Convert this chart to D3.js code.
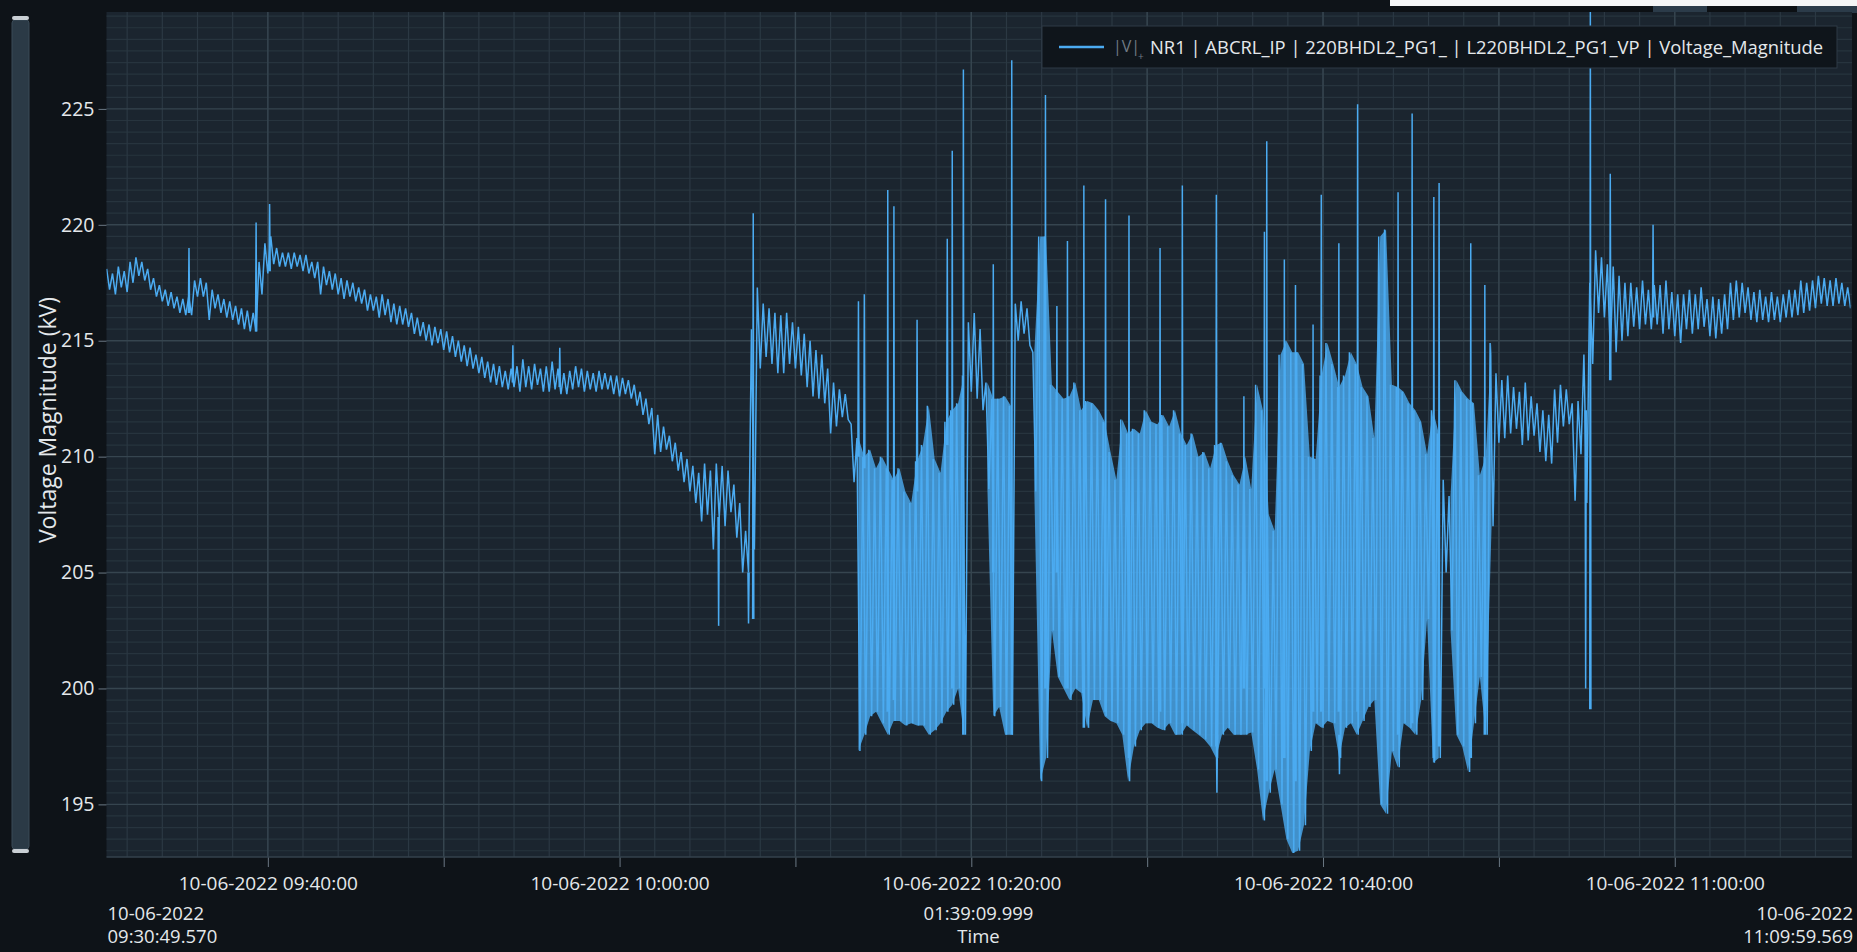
<!DOCTYPE html>
<html>
<head>
<meta charset="utf-8">
<script src="https://cdn.jsdelivr.net/npm/d3@7"></script>
<style>
  html, body { margin: 0; padding: 0; background: #0e1318; overflow: hidden; }
  svg { display: block; }
  text { font-family: "Open Sans", "Noto Sans", sans-serif; }
</style>
</head>
<body>
<svg id="chart" width="1857" height="952"></svg>
<script>
// ---- series meta ----------------------------------------------------------
const seriesName = "NR1 | ABCRL_IP | 220BHDL2_PG1_ | L220BHDL2_PG1_VP | Voltage_Magnitude";
const yAxisTitle = "Voltage Magnitude (kV)";
const xAxisTitle = "Time";

// visible time window
const rangeStart = "2022-06-10T09:30:49.570";
const rangeEnd   = "2022-06-10T11:09:59.569";

// the dense signal is stored as min/max per 20 s bucket
const firstBucket = "2022-06-10T09:30:50.000";
const bucketSeconds = 20;

// y axis
const yTicks = [195, 200, 205, 210, 215, 220, 225];
const yDomain = [192.73, 229.18];

// bucket maxima of the signal body (kV)
const bodyHigh = [
  218.1,217.9,218.2,218.0,218.4,218.6,218.4,218.1,217.7,217.4,
  217.2,217.1,216.9,216.8,216.9,217.6,217.7,217.5,217.2,217.0,
  216.8,216.7,216.5,216.4,216.3,216.2,218.4,219.2,219.5,219.0,
  218.8,218.8,218.8,218.7,218.7,218.4,218.4,218.2,218.0,217.9,
  217.7,217.6,217.5,217.3,217.2,217.0,216.9,217.0,216.8,216.6,
  216.5,216.4,216.2,216.0,215.8,215.7,215.6,215.5,215.4,215.2,
  215.0,214.8,214.7,214.4,214.3,214.1,214.0,213.9,213.7,213.8,
  213.9,214.2,213.9,214.0,213.8,213.9,214.1,213.8,213.6,213.7,
  213.9,213.8,213.7,213.6,213.7,213.6,213.5,213.5,213.4,213.3,
  213.1,212.8,212.5,212.1,211.8,211.3,210.9,210.6,210.2,209.9,
  209.6,209.3,209.7,209.4,209.7,209.6,209.4,208.8,208.0,206.8,
  215.5,217.3,216.6,216.4,216.2,216.1,216.2,215.8,215.6,215.3,
  215.0,214.6,214.4,213.8,213.2,212.9,212.7,211.4,210.8,210.0,
  210.3,209.5,210.0,209.5,209.0,209.5,208.5,208.0,209.8,210.5,
  212.2,209.9,209.3,211.5,212.0,212.3,213.5,215.8,216.2,215.5,
  213.2,212.5,212.5,212.6,212.2,216.6,216.7,216.4,214.5,219.5,
  219.5,213.1,212.8,212.5,212.6,213.2,212.0,212.4,212.3,212.0,
  211.5,210.2,209.0,211.6,211.0,211.2,211.0,212.0,211.5,211.4,
  211.8,211.3,212.0,211.0,210.5,211.0,210.0,210.2,209.5,210.5,
  210.6,209.8,209.2,208.8,210.0,208.6,213.1,212.0,207.5,206.8,
  214.4,215.0,214.5,214.5,214.0,210.0,209.9,213.5,214.9,214.0,
  213.0,213.5,214.5,214.0,213.0,212.6,210.8,219.5,219.8,213.1,
  213.0,212.8,212.3,212.0,211.5,210.1,212.0,211.0,209.0,208.3,
  213.3,212.8,212.5,212.3,209.2,210.0,214.9,213.6,213.3,213.5,
  213.0,212.8,213.2,212.6,212.3,212.0,211.8,212.9,213.1,212.9,
  212.3,212.4,214.4,217.5,218.9,218.6,218.3,218.2,217.8,217.5,
  217.5,217.3,217.6,217.2,217.4,217.4,217.6,217.1,217.0,217.0,
  217.2,217.0,217.3,216.8,216.9,216.8,217.0,217.5,217.6,217.5,
  217.3,217.1,217.2,216.9,217.1,216.9,217.0,217.2,217.2,217.6,
  217.5,217.6,217.8,217.7,217.6,217.7,217.5,217.3
];

// bucket minima of the signal body (kV)
const bodyLow = [
  217.2,217.0,217.3,217.1,217.5,217.8,217.6,217.2,216.9,216.7,
  216.5,216.4,216.2,216.1,216.1,216.9,216.9,215.9,216.4,216.2,
  216.0,215.9,215.7,215.5,215.4,215.4,217.0,217.9,218.3,218.2,
  218.2,218.1,218.2,218.0,217.9,217.7,217.0,217.4,217.2,217.0,
  216.8,216.9,216.7,216.6,216.3,216.3,216.0,216.1,215.8,215.7,
  215.7,215.6,215.3,215.2,215.0,214.8,214.9,214.6,214.5,214.3,
  214.1,213.9,213.8,213.6,213.4,213.2,213.1,213.0,212.9,213.0,
  212.8,213.0,212.9,213.1,212.8,212.8,212.9,212.7,212.7,212.9,
  213.0,212.8,212.9,212.8,212.9,212.9,212.7,212.6,212.7,212.5,
  212.2,211.8,211.4,210.1,210.2,210.3,209.8,209.4,208.9,208.5,
  208.0,207.2,207.5,206.0,207.4,207.0,207.6,206.5,205.0,205.0,
  206.0,213.8,214.3,214.0,213.6,213.6,214.0,213.8,213.5,213.0,
  212.6,212.5,212.3,211.0,211.3,211.7,211.6,208.9,197.3,198.0,
  198.8,199.0,198.5,198.0,198.6,198.6,198.4,198.5,198.4,198.4,
  198.0,198.2,198.5,199.0,199.3,200.0,198.0,212.8,212.5,212.0,
  208.6,198.8,199.2,198.0,198.0,215.0,215.3,214.8,208.5,196.0,
  197.0,202.5,200.5,200.0,199.5,200.0,199.8,198.3,199.5,199.5,
  198.8,198.6,198.5,198.0,196.0,197.5,198.2,198.5,198.5,198.3,
  198.2,198.5,198.0,198.0,198.4,198.2,198.0,197.8,197.5,197.0,
  198.0,198.3,198.0,198.0,198.0,198.1,196.5,194.3,195.5,196.5,
  195.0,193.5,192.9,193.0,194.1,197.3,198.5,198.3,198.6,198.5,
  197.0,198.3,198.5,198.0,198.6,199.2,199.5,195.0,194.6,197.3,
  196.6,198.5,198.3,198.0,199.5,203.0,196.8,197.0,205.0,202.5,
  198.0,197.5,196.4,198.5,200.5,198.0,207.0,210.6,210.8,211.0,
  211.2,210.5,210.7,210.9,210.2,209.8,209.7,210.6,211.3,211.4,
  208.1,210.1,208.0,214.0,216.2,216.0,214.5,214.5,215.0,215.2,
  215.6,215.5,215.7,215.5,215.7,215.3,215.5,215.2,214.9,215.5,
  215.3,215.5,215.6,215.2,215.1,215.3,215.5,215.9,216.0,216.2,
  215.9,215.8,215.9,215.8,215.9,215.8,216.0,216.0,216.1,216.2,
  216.3,216.4,216.6,216.5,216.5,216.6,216.5,216.4
];

// isolated excursions: [time, from kV, to kV]
const spikes = [
  ["09:35:31", 216.2, 219.0], ["09:39:20", 215.4, 220.1], ["09:40:06", 218.0, 220.9],
  ["09:53:56", 213.2, 214.8], ["09:56:36", 213.0, 214.7], ["10:05:38", 207.4, 202.7],
  ["10:07:20", 205.0, 202.8], ["10:07:36", 203.0, 220.5], ["10:13:35", 210.0, 216.7],
  ["10:13:55", 209.5, 217.0], ["10:15:15", 199.0, 221.5], ["10:15:36", 199.5, 220.8],
  ["10:16:55", 208.5, 215.9], ["10:18:38", 210.5, 219.4], ["10:18:55", 200.0, 223.2],
  ["10:19:33", 198.0, 226.7], ["10:21:15", 205.0, 218.3], ["10:22:18", 198.0, 227.1],
  ["10:24:13", 200.0, 225.6], ["10:24:52", 205.0, 216.5], ["10:25:28", 200.0, 219.3],
  ["10:26:24", 198.3, 221.7], ["10:27:38", 199.0, 221.1], ["10:28:58", 197.0, 220.4],
  ["10:30:44", 199.0, 219.0], ["10:32:00", 198.5, 221.7], ["10:33:56", 197.5, 221.3],
  ["10:33:58", 198.0, 195.5], ["10:35:30", 200.0, 212.6], ["10:36:40", 200.0, 219.7],
  ["10:36:48", 196.0, 223.6], ["10:37:48", 197.0, 218.5], ["10:38:26", 196.0, 217.4],
  ["10:39:26", 199.0, 215.7], ["10:39:54", 199.0, 221.3], ["10:40:54", 199.0, 219.2],
  ["10:40:56", 198.0, 196.3], ["10:41:58", 199.0, 225.2], ["10:44:16", 198.0, 221.4],
  ["10:45:04", 198.5, 224.8], ["10:46:18", 197.0, 221.2], ["10:46:36", 197.5, 221.8],
  ["10:48:24", 197.0, 219.2], ["10:49:12", 198.0, 217.4], ["10:54:56", 212.0, 200.0],
  ["10:55:12", 199.1, 229.5], ["10:56:20", 213.3, 222.2], ["10:58:46", 216.0, 220.0]
];

// ---- layout ---------------------------------------------------------------
const W = 1857, H = 952;
const plot = { left: 106.5, right: 1850.5, top: 12, bottom: 857, bgRight: 1852 };
const colors = {
  page: "#0e1318",
  plotBg: "#1b252f",
  gridMinor: "#27343e",
  gridMid: "#2b3843",
  gridMajor: "#36454f",
  tick: "#6b7884",
  text: "#e4e8eb",
  line: "#4babf1",
  legendBg: "#0f151b",
  legendBorder: "#2f3b46",
  scrollFill: "#2b3a46",
  scrollCap: "#c9cfd4"
};

const parseMs = d3.timeParse("%Y-%m-%dT%H:%M:%S.%L");
const parseClock = d3.timeParse("%Y-%m-%dT%H:%M:%S");
const tStart = parseMs(rangeStart);
const tEnd = parseMs(rangeEnd);
const tFirst = parseMs(firstBucket);
const day = rangeStart.slice(0, 10);

const x = d3.scaleTime().domain([tStart, tEnd]).range([plot.left, plot.right]);
const y = d3.scaleLinear().domain(yDomain).range([plot.bottom, plot.top]);

const svg = d3.select("#chart");
svg.append("rect").attr("width", W).attr("height", H).attr("fill", colors.page);

// window chrome along the top edge
const chrome = svg.append("g");
chrome.append("rect").attr("x", 1390).attr("y", 0).attr("width", W - 1390).attr("height", 6).attr("fill", "#f4f5f6");
chrome.append("rect").attr("x", 1390).attr("y", 6).attr("width", W - 1390).attr("height", 7).attr("fill", "#0c1014");
chrome.append("rect").attr("x", 1653).attr("y", 6).attr("width", 54).attr("height", 7).attr("fill", "#2b3b49");
chrome.append("rect").attr("x", 1797).attr("y", 6).attr("width", 60).attr("height", 7).attr("fill", "#2b3b49");

// plot background
svg.append("rect")
  .attr("x", plot.left).attr("y", plot.top)
  .attr("width", plot.bgRight - plot.left).attr("height", plot.bottom - plot.top)
  .attr("fill", colors.plotBg);

const grid = svg.append("g");
const hLines = (vals, color, w) => grid.append("g").selectAll("line").data(vals).join("line")
  .attr("x1", plot.left).attr("x2", plot.bgRight)
  .attr("y1", d => y(d)).attr("y2", d => y(d))
  .attr("stroke", color).attr("stroke-width", w);
const vLines = (vals, color, w) => grid.append("g").selectAll("line").data(vals).join("line")
  .attr("x1", d => x(d)).attr("x2", d => x(d))
  .attr("y1", plot.top).attr("y2", plot.bottom)
  .attr("stroke", color).attr("stroke-width", w);

// minor gridlines: 2 min / 0.5 kV, major gridlines: 10 min / 5 kV
const minorX = d3.timeMinute.every(2).range(tStart, tEnd);
const majorX = d3.timeMinute.every(10).range(tStart, tEnd);
const minorY = d3.range(Math.ceil(yDomain[0] * 2) / 2, yDomain[1], 0.5).filter(v => v % 5 !== 0);
hLines(minorY, colors.gridMinor, 1.2);
vLines(minorX, colors.gridMid, 1.2);
vLines(majorX, colors.gridMajor, 1.4);
hLines(yTicks, colors.gridMajor, 1.4);

// ---- series -----------------------------------------------------------------
svg.append("clipPath").attr("id", "plotClip")
  .append("rect")
  .attr("x", plot.left).attr("y", plot.top)
  .attr("width", plot.right - plot.left).attr("height", plot.bottom - plot.top);

const half = bucketSeconds * 500;
const buckets = bodyHigh.map((hi, i) => ({
  t: new Date(tFirst.getTime() + i * bucketSeconds * 1000),
  hi, lo: bodyLow[i]
}));

const series = svg.append("g").attr("clip-path", "url(#plotClip)");

// where the signal swings widely the samples merge into a solid band
series.append("path")
  .datum(buckets)
  .attr("fill", colors.line)
  .attr("fill-opacity", 0.8)
  .attr("d", d3.area()
    .defined(d => d.hi - d.lo > 4)
    .x(d => x(new Date(d.t.getTime() + half / 2)))
    .y0(d => y(d.lo)).y1(d => y(d.hi)));

// the sampled trace inside each bucket
const pts = [];
buckets.forEach(b => {
  pts.push([b.t, b.hi]);
  pts.push([new Date(b.t.getTime() + half), b.lo]);
});
series.append("path")
  .datum(pts)
  .attr("fill", "none")
  .attr("stroke", colors.line)
  .attr("stroke-width", 1.5)
  .attr("d", d3.line().x(d => x(d[0])).y(d => y(d[1])));

// excursions
series.append("g").selectAll("path").data(spikes).join("path")
  .attr("fill", "none")
  .attr("stroke", colors.line)
  .attr("stroke-width", 1.5)
  .attr("d", s => {
    const t = parseClock(`${day}T${s[0]}`).getTime();
    return d3.line()([
      [x(new Date(t - 2000)), y(s[1])],
      [x(new Date(t)), y(s[2])],
      [x(new Date(t + 2000)), y(s[1])]
    ]);
  });

// ---- axes -------------------------------------------------------------------
const fmtTick = d3.timeFormat("%d-%m-%Y %H:%M:%S");
const fmtDate = d3.timeFormat("%d-%m-%Y");
const fmtClock = d3.timeFormat("%H:%M:%S.%L");

const xAxis = d3.axisBottom(x)
  .tickValues(majorX)
  .tickSize(10)
  .tickPadding(9.5)
  .tickFormat(d => d.getMinutes() % 20 === 0 ? fmtTick(d) : "");
const gx = svg.append("g").attr("transform", `translate(0,${plot.bottom})`).call(xAxis);
gx.select(".domain").remove();
gx.selectAll(".tick line").attr("stroke", colors.tick);
gx.selectAll(".tick text").attr("fill", colors.text).attr("font-size", 19)
  .style("font-family", '"Open Sans", sans-serif');

const yAxis = d3.axisLeft(y).tickValues(yTicks).tickSize(8).tickPadding(4);
const gy = svg.append("g").attr("transform", `translate(${plot.left},0)`).call(yAxis);
gy.select(".domain").remove();
gy.selectAll(".tick line").attr("stroke", colors.tick);
gy.selectAll(".tick text").attr("fill", colors.text).attr("font-size", 19.5)
  .style("font-family", '"Open Sans", sans-serif');

// bottom edge of the plot
svg.append("line")
  .attr("x1", plot.left).attr("x2", plot.bgRight)
  .attr("y1", plot.bottom).attr("y2", plot.bottom)
  .attr("stroke", "#34424d").attr("stroke-width", 1.5);

// visible range annotations
const spanMs = tEnd - tStart;
const pad = (n, w) => String(n).padStart(w, "0");
const spanText = `${pad(Math.floor(spanMs / 3600000), 2)}:${pad(Math.floor(spanMs / 60000) % 60, 2)}:${pad(Math.floor(spanMs / 1000) % 60, 2)}.${pad(spanMs % 1000, 3)}`;

const ann = svg.append("g").attr("fill", colors.text).attr("font-size", 18.5);
const row2 = 920, row3 = 943;
ann.append("text").attr("x", plot.left + 1).attr("y", row2).text(fmtDate(tStart));
ann.append("text").attr("x", plot.left + 1).attr("y", row3).text(fmtClock(tStart));
ann.append("text").attr("x", (plot.left + plot.right) / 2).attr("y", row2)
  .attr("text-anchor", "middle").text(spanText);
ann.append("text").attr("x", (plot.left + plot.right) / 2).attr("y", row3)
  .attr("text-anchor", "middle").text(xAxisTitle);
ann.append("text").attr("x", W - 4).attr("y", row2).attr("text-anchor", "end").text(fmtDate(tEnd));
ann.append("text").attr("x", W - 4).attr("y", row3).attr("text-anchor", "end").text(fmtClock(tEnd));

// y axis title
svg.append("text")
  .attr("transform", "translate(56,420) rotate(-90)")
  .attr("text-anchor", "middle")
  .attr("fill", colors.text).attr("font-size", 23)
  .text(yAxisTitle);

// ---- legend -----------------------------------------------------------------
const lg = svg.append("g");
lg.append("rect").attr("x", 1042).attr("y", 26).attr("width", 795).attr("height", 42)
  .attr("fill", colors.legendBg).attr("stroke", colors.legendBorder).attr("stroke-width", 1);
lg.append("line").attr("x1", 1059).attr("x2", 1104).attr("y1", 47).attr("y2", 47)
  .attr("stroke", colors.line).attr("stroke-width", 2.5);
lg.append("text").attr("x", 1113).attr("y", 52).attr("fill", "#6f7a84").attr("font-size", 16)
  .text("|V|");
lg.append("text").attr("x", 1138).attr("y", 60).attr("fill", "#6f7a84").attr("font-size", 10)
  .text("+");
lg.append("text").attr("x", 1150).attr("y", 54).attr("fill", colors.text).attr("font-size", 18.4)
  .text(seriesName);

// ---- vertical scroll bar ------------------------------------------------------
const sb = svg.append("g");
sb.append("rect").attr("x", 12).attr("y", 20).attr("width", 17).attr("height", 829).attr("rx", 3)
  .attr("fill", colors.scrollFill).attr("stroke", "#3a4a57");
sb.append("rect").attr("x", 12).attr("y", 16).attr("width", 17).attr("height", 4).attr("rx", 2)
  .attr("fill", colors.scrollCap);
sb.append("rect").attr("x", 12).attr("y", 849).attr("width", 17).attr("height", 4).attr("rx", 2)
  .attr("fill", colors.scrollCap);
</script>
</body>
</html>
